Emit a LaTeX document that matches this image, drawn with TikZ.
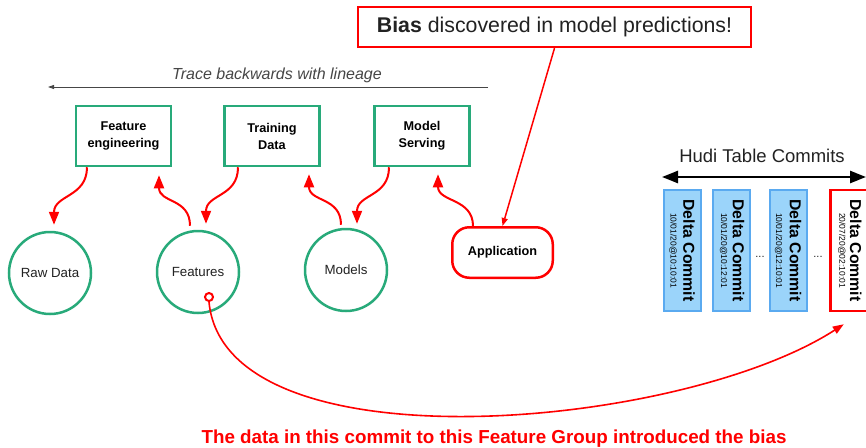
\documentclass[tikz,border=0pt]{standalone}
\usepackage{fontspec}
\setmainfont{Liberation Sans}
\usetikzlibrary{arrows.meta}
\definecolor{grn}{RGB}{40,170,122}
\definecolor{rd}{RGB}{255,0,0}
\definecolor{bfill}{RGB}{155,212,250}
\definecolor{bdraw}{RGB}{90,170,240}
\definecolor{txt}{RGB}{34,34,34}
\definecolor{trc}{RGB}{70,70,70}
\begin{document}
\begin{tikzpicture}[x=1pt,y=-1pt,
  stagebox/.style={draw=grn, line width=2.5pt, minimum width=95pt, minimum height=60pt, inner sep=0pt, align=center, font=\bfseries\fontsize{12.7}{17}\selectfont, text=black},
  datanode/.style={circle, draw=grn, line width=2.5pt, minimum size=82pt, inner sep=0pt, font=\fontsize{13.3}{15}\selectfont, text=txt},
  flow/.style={draw=rd, line width=2pt, -{Triangle[length=13pt,width=10pt]}},
  commitbox/.style={draw=bdraw, fill=bfill, line width=2pt, minimum width=37pt, minimum height=121pt, inner sep=0pt},
  ctitle/.style={rotate=-90, font=\bfseries\fontsize{15.8}{17}\selectfont, inner sep=0pt, text=black},
  cdate/.style={rotate=-90, font=\fontsize{8.5}{10}\selectfont, inner sep=0pt, text=black},
  dotsnode/.style={font=\fontsize{11}{12}\selectfont, inner sep=0pt, text=txt}]
\useasboundingbox (0,0) rectangle (866,447);
\fill[white] (0,0) rectangle (866,447);

% top callout
\node (bias) [draw=rd, line width=1.8pt, minimum width=393pt, minimum height=40.5pt, inner sep=0pt, font=\fontsize{21.3}{24}\selectfont, text=txt] at (554.5,27) {\textbf{Bias} discovered in model predictions!};

% trace line
\node (trace) [font=\itshape\fontsize{16}{18}\selectfont, text=trc, inner sep=0pt] at (277,75) {Trace backwards with lineage};
\coordinate (tr1) at (488,87);
\coordinate (tr2) at (48,87);
\draw[trc, line width=0.8pt, -{Triangle[length=6pt,width=4pt]}] (tr1) -- (tr2);

% stage boxes
\node (fe) [stagebox] at (123.5,136) {Feature\\engineering};
\node (td) [stagebox] at (272,136) {Training\\Data};
\node (ms) [stagebox] at (422,136) {Model\\Serving};

% data circles
\node (raw) [datanode] at (50,273) {Raw Data};
\node (feat) [datanode] at (198,272) {Features};
\node (models) [datanode] at (346,270) {Models};

% application
\node (app) [draw=rd, line width=2.5pt, rounded corners=17pt, minimum width=100.5pt, minimum height=50.5pt, inner sep=0pt, font=\bfseries\fontsize{12.7}{15}\selectfont, text=black] at (502.5,252.5) {Application};

% lineage arrows
\draw[flow] ([xshift=-36.5pt]fe.south) .. controls +(0,30) and +(0,-30) .. ([xshift=4pt,yshift=6pt]raw.north);
\draw[flow] ([xshift=-8pt,yshift=4pt]feat.north) .. controls +(0,-28) and +(0,28) .. ([xshift=35.5pt,yshift=-8pt]fe.south);
\draw[flow] ([xshift=-34pt]td.south) .. controls +(0,30) and +(0,-30) .. ([xshift=8pt,yshift=6pt]feat.north);
\draw[flow] ([xshift=-5pt,yshift=3pt]models.north) .. controls +(0,-28) and +(0,28) .. ([xshift=37pt,yshift=-7pt]td.south);
\draw[flow] ([xshift=-33pt]ms.south) .. controls +(0,30) and +(0,-30) .. ([xshift=11pt,yshift=4pt]models.north);
\draw[flow] ([xshift=-29.5pt]app.north) .. controls +(0,-28) and +(0,28) .. ([xshift=16pt,yshift=-7pt]ms.south);
\draw[rd, line width=1.5pt, -{Triangle[length=8pt,width=6pt]}] (bias.south) -- (app.north);

% Hudi commits
\node (hudi) [font=\fontsize{18.5}{20}\selectfont, text=txt, inner sep=0pt] at (762,156) {Hudi Table Commits};
\coordinate (h1) at (662,177);
\coordinate (h2) at (866,177);
\draw[black, line width=2.5pt, {Triangle[length=16pt,width=12pt]}-{Triangle[length=16pt,width=12pt]}] (h1) -- (h2);

\node (c1) [commitbox] at (682,250.5) {};
\node (c2) [commitbox] at (731.5,250.5) {};
\node (c3) [commitbox] at (788.5,250.5) {};
\node (c4) [draw=rd, fill=white, line width=2.5pt, minimum width=46pt, minimum height=121pt, inner sep=0pt] at (853.5,250.5) {};

\node [ctitle] at ([xshift=26.5pt]c1.west) {Delta Commit};
\node [cdate]  at ([xshift=10.5pt]c1.west) {10/01/20@10:10:01};
\node [ctitle] at ([xshift=26.5pt]c2.west) {Delta Commit};
\node [cdate]  at ([xshift=11.5pt]c2.west) {10/01/20@10:12:01};
\node [ctitle] at ([xshift=26.5pt]c3.west) {Delta Commit};
\node [cdate]  at ([xshift=9.5pt]c3.west) {10/01/20@12:10:01};
\node [ctitle] at ([xshift=26.5pt]c4.west) {Delta Commit};
\node [cdate]  at ([xshift=12.5pt]c4.west) {20/07/20@02:10:01};

\node (d1) [dotsnode] at (760,257) {...};
\node (d2) [dotsnode] at (818,257) {...};

% bias origin link
\node (pin) [circle, draw=rd, line width=2pt, fill=white, minimum size=8pt, inner sep=0pt] at (209,297) {};
\draw[rd, line width=1.6pt, -{Triangle[length=11pt,width=8pt]}] (pin.south) .. controls (225,470) and (680,430) .. ([xshift=14.5pt,yshift=-12pt]c4.south west);

\node (note) [anchor=base, text=rd, font=\bfseries\fontsize{18.8}{20}\selectfont, inner sep=0pt] at (494,443) {The data in this commit to this Feature Group introduced the bias};
\end{tikzpicture}
\end{document}
